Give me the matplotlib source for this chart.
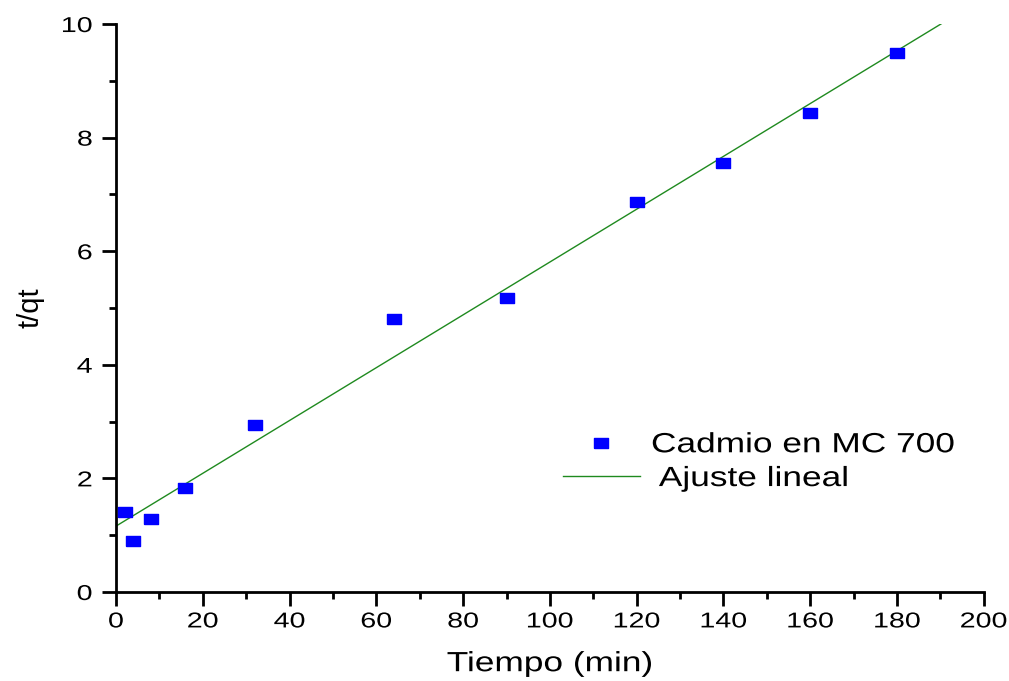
import numpy as np
import matplotlib.pyplot as plt
from matplotlib.ticker import MultipleLocator
from matplotlib.patheffects import AbstractPathEffect
from matplotlib.transforms import Affine2D

plt.rcParams['font.family'] = ['Liberation Sans', 'DejaVu Sans']

# Datos experimentales: tiempo (min) vs t/qt
tiempo = [2, 4, 8, 16, 32, 64, 90, 120, 140, 160, 180]
t_qt = [1.41, 0.90, 1.28, 1.83, 2.94, 4.81, 5.18, 6.87, 7.55, 8.43, 9.49]

# Ajuste lineal (intercepto y pendiente)
intercepto = 1.16
pendiente = 0.0465
x_ajuste = [0, 200]


class Ensanchar(AbstractPathEffect):
    """Ensancha horizontalmente el texto alrededor de un punto de anclaje."""

    def __init__(self, sx, ancla='center'):
        super().__init__()
        self.sx = sx
        self.ancla = ancla

    def draw_path(self, renderer, gc, tpath, affine, rgbFace=None):
        ext = tpath.get_extents()
        if self.ancla == 'center':
            x0 = (ext.x0 + ext.x1) / 2
        elif self.ancla == 'right':
            x0 = ext.x1
        else:
            x0 = 0
        t = Affine2D().translate(-x0, 0).scale(self.sx, 1).translate(x0, 0) + affine
        renderer.draw_path(gc, tpath, t, rgbFace)


fig = plt.figure(figsize=(10.09, 6.81), dpi=100)
ax = fig.add_axes([0.115, 0.1307, 0.86, 0.834])

# marcador cuadrado algo más ancho que alto
cuadro = [(-1, -0.78), (1, -0.78), (1, 0.78), (-1, 0.78), (-1, -0.78)]

y_ajuste = intercepto + pendiente * np.array(x_ajuste)
ax.plot(x_ajuste, y_ajuste, color='#1f8a1f', linewidth=1.0, label=' Ajuste lineal', zorder=2)
ax.plot(tiempo, t_qt, linestyle='none', marker=cuadro, markersize=10,
        color='#0000ff', label='Cadmio en MC 700', zorder=3)

ax.set_xlim(0, 200)
ax.set_ylim(0, 10)
ax.xaxis.set_major_locator(MultipleLocator(20))
ax.xaxis.set_minor_locator(MultipleLocator(10))
ax.yaxis.set_major_locator(MultipleLocator(2))
ax.yaxis.set_minor_locator(MultipleLocator(1))

for lado in ['top', 'right']:
    ax.spines[lado].set_visible(False)
for lado in ['left', 'bottom']:
    ax.spines[lado].set_linewidth(2)

ax.tick_params(which='major', direction='out', length=10, width=2, labelsize=15.5)
ax.tick_params(which='minor', direction='out', length=5, width=2)
ax.tick_params(axis='x', which='major', pad=4)
ax.tick_params(axis='y', which='major', pad=7)

for lbl in ax.get_xticklabels():
    lbl.set_path_effects([Ensanchar(1.33, 'center')])
for lbl in ax.get_yticklabels():
    lbl.set_path_effects([Ensanchar(1.33, 'right')])

ax.set_xlabel('Tiempo (min)', fontsize=20, labelpad=13.5,
              path_effects=[Ensanchar(1.27, 'center')])
ax.set_ylabel('t/qt', fontsize=21, labelpad=17.5)

handles, labels = ax.get_legend_handles_labels()
leg = ax.legend(handles[::-1], labels[::-1], loc='center left',
                bbox_to_anchor=(0.515, 0.2286), frameon=False, fontsize=20,
                handlelength=2.77, handletextpad=0.4, labelspacing=0.28,
                borderpad=0, borderaxespad=0)
for txt in leg.get_texts():
    txt.set_path_effects([Ensanchar(1.27, 'left')])

fig.savefig('out.png', dpi=100)
